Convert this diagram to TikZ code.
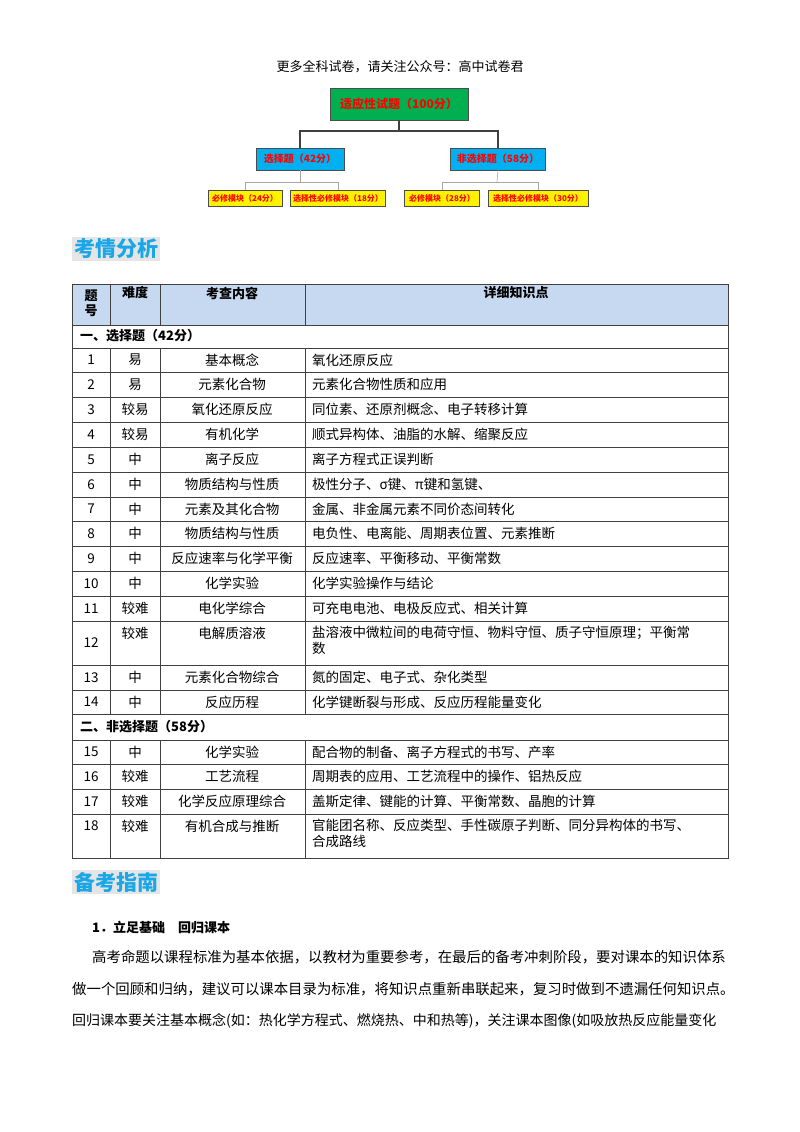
\documentclass[tikz,border=0pt]{standalone}
\usepackage{fontspec}
\setmainfont{Noto Sans CJK SC}
\begin{document}
\begin{tikzpicture}[x=1pt,y=-1pt,
  tb/.style={draw=black!70,line width=0.8pt,minimum height=22pt,font=\fontsize{10}{11}\selectfont\bfseries,text=red},
  con/.style={line width=1.2pt,draw=black!75},
  con2/.style={line width=0.6pt,draw=black!35},
  cell/.style={font=\fontsize{13.5}{15.5}\selectfont,inner sep=0pt},
  hd/.style={font=\fontsize{13}{15}\selectfont\bfseries,inner sep=0pt},
  grid/.style={draw=black!75,line width=0.7pt}]
\definecolor{gr}{HTML}{00B050}
\definecolor{bl}{HTML}{00B0F0}
\definecolor{hdr}{HTML}{C6D9F1}
\definecolor{ttl}{HTML}{1AA7E8}
\useasboundingbox (0,0) rectangle (800,1132);
\fill[white] (0,0) rectangle (800,1132);
\node[font=\fontsize{13}{15}\selectfont] (top) at (400,67) {更多全科试卷，请关注公众号：高中试卷君};
% tree
\node[tb,fill=gr,minimum width=138pt,minimum height=32pt,font=\fontsize{12}{13}\selectfont\bfseries] (r) at (399,104) {适应性试题（100分）};
\node[tb,fill=bl,minimum width=88pt] (a) at (300,159) {选择题（42分）};
\node[tb,fill=bl,minimum width=95pt] (b) at (498,159) {非选择题（58分）};
\tikzset{yb/.style={tb,fill=yellow,minimum height=16pt,font=\fontsize{8}{9}\selectfont\bfseries,inner sep=1pt}}
\node[yb,minimum width=74pt] (a1) at (245,198) {必修模块（24分）};
\node[yb,minimum width=95pt] (a2) at (338,198) {选择性必修模块（18分）};
\node[yb,minimum width=75pt] (b1) at (442,198) {必修模块（28分）};
\node[yb,minimum width=100pt] (b2) at (538,198) {选择性必修模块（30分）};
\coordinate (j) at (399,131);
\draw[con] (r.south) -- (j);
\draw[con] (j) -| (a.north);
\draw[con] (j) -| (b.north);
\draw[con2] (a.south) -- (300,182) coordinate (ja);
\draw[con2] (ja) -| (a1.north); \draw[con2] (ja) -| (a2.north);
\draw[con2] (b.south) -- (497,182) coordinate (jb);
\draw[con2] (jb) -| (b1.north); \draw[con2] (jb) -| (b2.north);
% headings
\node[fill=black!10,text=ttl,font=\fontsize{21}{23}\selectfont\bfseries,inner sep=2pt,anchor=west] (h1) at (72,249) {考情分析};
\node[fill=black!10,text=ttl,font=\fontsize{21}{23}\selectfont\bfseries,inner sep=2pt,anchor=west] (h2) at (72,882) {备考指南};
% table
\fill[hdr] (72,284) rectangle (728,325);
\draw[grid] (72,284) rectangle (728,858);
\foreach \y in {325,348,372,397,422,447,472,497,521,546,571,596,621,665,690,714,740,764,789,814}
  \draw[grid] (72,\y) -- (728,\y);
\foreach \x in {110,160,305} {
  \draw[grid] (\x,284) -- (\x,325);
  \draw[grid] (\x,348) -- (\x,714);
  \draw[grid] (\x,740) -- (\x,858);}
\node[hd,align=center] (t1) at (91,303) {题\\号};
\node[hd] (t2) at (135,293) {难度};
\node[hd] (t3) at (232,293) {考查内容};
\node[hd] (t4) at (516,293) {详细知识点};
\node[hd,anchor=west] (s1) at (80,336) {一、选择题（42分）};
\node[hd,anchor=west] (s2) at (80,727) {二、非选择题（58分）};
\foreach \n/\d/\c/\k/\y in {1/易/基本概念/氧化还原反应/360,
 2/易/元素化合物/元素化合物性质和应用/384.5,
 3/较易/氧化还原反应/同位素、还原剂概念、电子转移计算/409.5,
 4/较易/有机化学/顺式异构体、油脂的水解、缩聚反应/434.5,
 5/中/离子反应/离子方程式正误判断/459.5,
 6/中/物质结构与性质/极性分子、σ键、π键和氢键、/484.5,
 7/中/元素及其化合物/金属、非金属元素不同价态间转化/509,
 8/中/物质结构与性质/电负性、电离能、周期表位置、元素推断/533.5,
 9/中/反应速率与化学平衡/反应速率、平衡移动、平衡常数/558.5,
 10/中/化学实验/化学实验操作与结论/583.5,
 11/较难/电化学综合/可充电电池、电极反应式、相关计算/608.5,
 13/中/元素化合物综合/氮的固定、电子式、杂化类型/677.5,
 14/中/反应历程/化学键断裂与形成、反应历程能量变化/702,
 15/中/化学实验/配合物的制备、离子方程式的书写、产率/752,
 16/较难/工艺流程/周期表的应用、工艺流程中的操作、铝热反应/776.5,
 17/较难/化学反应原理综合/盖斯定律、键能的计算、平衡常数、晶胞的计算/801.5} {
  \node[cell] at (91,\y) {\n};
  \node[cell] at (135,\y) {\d};
  \node[cell] at (232,\y) {\c};
  \node[cell,anchor=west] at (312,\y) {\k};}
\node[cell] (c12a) at (91,643) {12};
\node[cell] (c12b) at (135,633) {较难};
\node[cell] (c12c) at (232,633) {电解质溶液};
\node[cell,anchor=north west,align=left] (c12d) at (312,626) {盐溶液中微粒间的电荷守恒、物料守恒、质子守恒原理；平衡常\\数};
\node[cell] (c18a) at (91,826) {18};
\node[cell] (c18b) at (135,826) {较难};
\node[cell] (c18c) at (232,826) {有机合成与推断};
\node[cell,anchor=north west,align=left] (c18d) at (312,819) {官能团名称、反应类型、手性碳原子判断、同分异构体的书写、\\合成路线};
% guide text
\node[font=\fontsize{13}{15}\selectfont\bfseries,anchor=west,inner sep=0pt] (g1) at (92,928) {1．立足基础　回归课本};
\tikzset{para/.style={font=\fontsize{14.4}{16}\selectfont,anchor=west,inner sep=0pt}}
\node[para] (p1) at (92,957) {高考命题以课程标准为基本依据，以教材为重要参考，在最后的备考冲刺阶段，要对课本的知识体系};
\node[para] (p2) at (72,989) {做一个回顾和归纳，建议可以课本目录为标准，将知识点重新串联起来，复习时做到不遗漏任何知识点。};
\node[para,font=\fontsize{14}{16}\selectfont] (p3) at (72,1021) {回归课本要关注基本概念(如：热化学方程式、燃烧热、中和热等)，关注课本图像(如吸放热反应能量变化};
\end{tikzpicture}
\end{document}
